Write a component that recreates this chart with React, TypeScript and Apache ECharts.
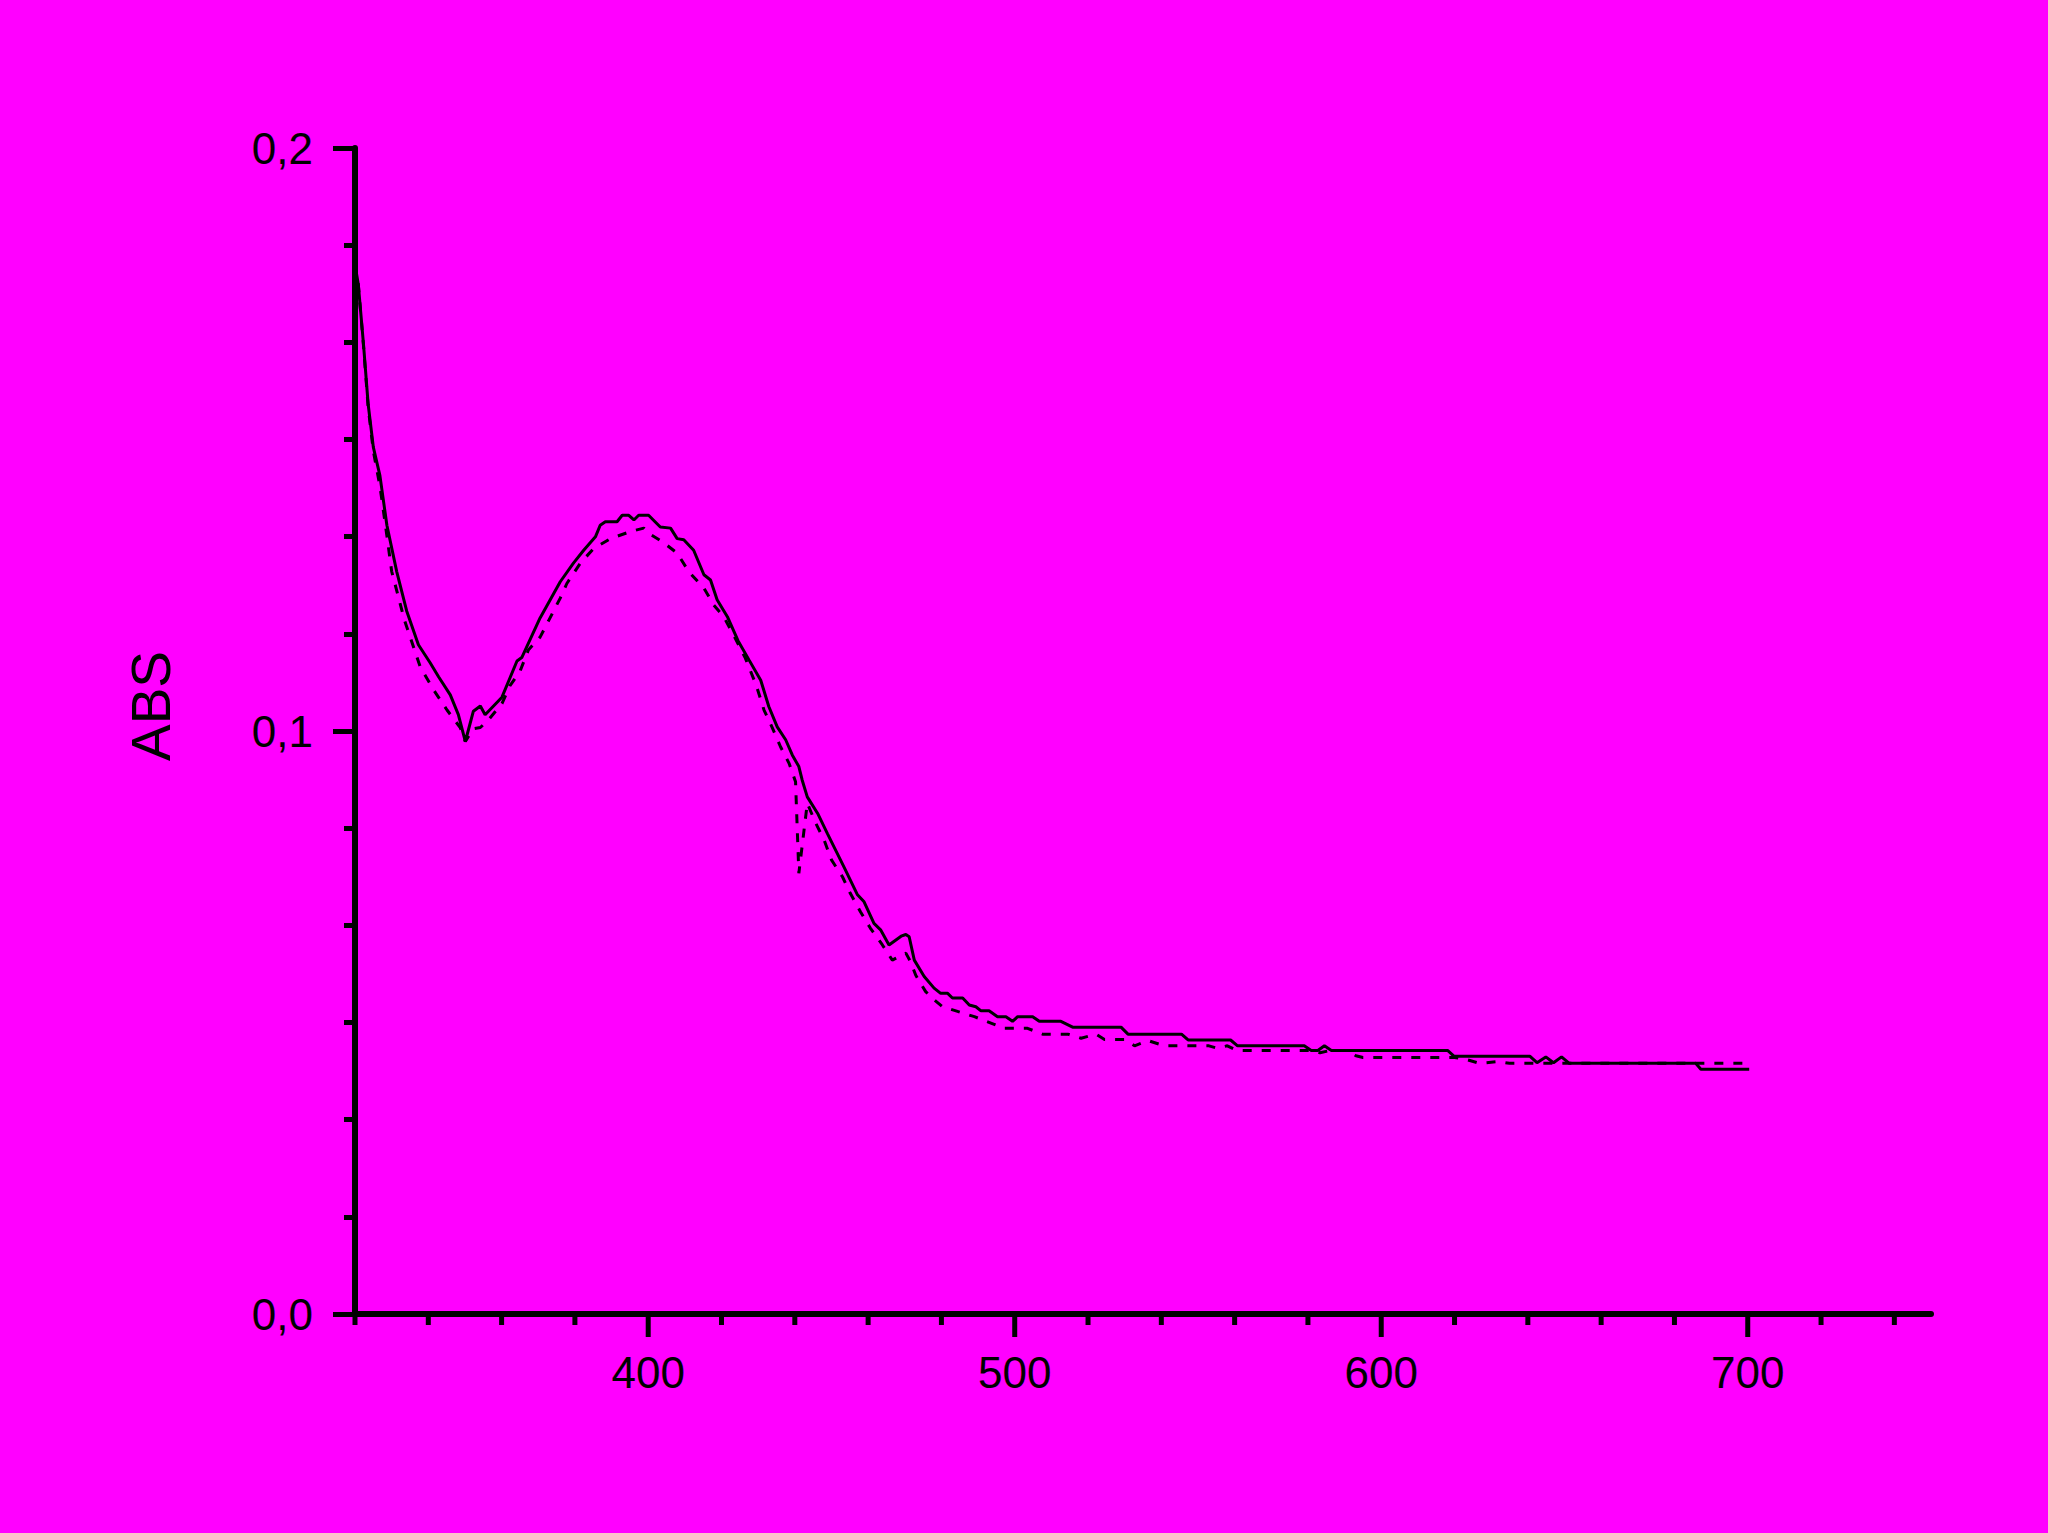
import React, { useEffect, useRef } from "react";
import * as echarts from "echarts";

const solidSeries: [number, number][] = [
  [320, 0.18], [320.9, 0.1766], [322.3, 0.1665], [323.6, 0.156], [325, 0.1487], [326.8, 0.1438],
  [328.7, 0.1353], [331.4, 0.1273], [334.1, 0.1206], [337.3, 0.1148], [340.5, 0.1117], [342.8, 0.1093],
  [346, 0.1062], [348.2, 0.1028], [350.1, 0.0982], [352.3, 0.1034], [354.2, 0.1043], [355.5, 0.1028],
  [360.1, 0.1058], [364.2, 0.112], [365.5, 0.1126], [370.5, 0.1194], [376, 0.1256], [379.6, 0.1288],
  [382.4, 0.131], [385.6, 0.1333], [386.9, 0.1353], [388.3, 0.1359], [391.5, 0.1359], [392.9, 0.137],
  [394.7, 0.137], [396.1, 0.1362], [397.4, 0.137], [400.1, 0.137], [403.3, 0.135], [406.1, 0.1348],
  [407.9, 0.133], [409.7, 0.1328], [412.4, 0.131], [415.2, 0.1268], [417, 0.1259], [418.8, 0.1225],
  [421.6, 0.1196], [424.5, 0.1155], [427.5, 0.1122], [430.7, 0.1087], [432.9, 0.1042], [435.2, 0.1007],
  [437.5, 0.0985], [439.3, 0.0959], [441.1, 0.0939], [442, 0.0916], [443.4, 0.0887], [446.2, 0.0859],
  [448.9, 0.0824], [453.4, 0.0767], [457.1, 0.0719], [458.9, 0.0707], [461.6, 0.067], [463.4, 0.0659],
  [465.7, 0.0633], [469, 0.0648], [470.3, 0.0651], [471.2, 0.0647], [472.6, 0.0607], [475.3, 0.0579],
  [478, 0.0559], [479.8, 0.055], [481.7, 0.055], [483, 0.0542], [485.8, 0.0542], [487.6, 0.053],
  [489.4, 0.0527], [490.8, 0.052], [493, 0.052], [495.3, 0.051], [497.6, 0.051], [499.4, 0.0502],
  [500.8, 0.051], [504.9, 0.051], [506.7, 0.0502], [512.6, 0.0502], [515.8, 0.0492], [529, 0.0492],
  [530.9, 0.048], [545.5, 0.048], [547.3, 0.047], [558.9, 0.047], [560.8, 0.046], [579, 0.046],
  [580.9, 0.0452], [582.7, 0.0452], [584.5, 0.046], [586.4, 0.0452], [618.1, 0.0452], [619.9, 0.0442],
  [640.6, 0.0442], [642.5, 0.0431], [644.9, 0.0441], [647, 0.0431], [649.2, 0.0441], [651.3, 0.043],
  [685.8, 0.043], [687.2, 0.042], [700.4, 0.042],
];

const dashedSeries: [number, number][] = [
  [320, 0.18], [320.9, 0.1766], [322.3, 0.1662], [323.6, 0.1555], [325, 0.148], [326.8, 0.142],
  [328.7, 0.1335], [330, 0.1274], [333.5, 0.119], [337.8, 0.111], [341.5, 0.107], [345.1, 0.1036],
  [348.7, 0.1006], [350.1, 0.0982], [352.3, 0.1004], [354.2, 0.1006], [356.4, 0.1019], [360.1, 0.1047],
  [362.3, 0.1078], [365, 0.1102], [367.3, 0.1139], [370.5, 0.1161], [372.8, 0.1189], [376, 0.1228],
  [377.8, 0.1253], [381.5, 0.1288], [385.1, 0.1313], [389.7, 0.133], [395.1, 0.1342], [398.8, 0.1348],
  [400.1, 0.1339], [403.8, 0.1325], [407.9, 0.1305], [411.1, 0.1273], [415.2, 0.1245], [417.9, 0.1216],
  [420.6, 0.1196], [423.5, 0.1162], [426.5, 0.1125], [429.5, 0.1078], [431.6, 0.1036], [433.9, 0.1005],
  [436.1, 0.0973], [438.4, 0.0945], [440.2, 0.0913], [441.1, 0.0756], [443.4, 0.0876], [445.7, 0.0842],
  [448, 0.0813], [450, 0.0779], [453, 0.075], [455.1, 0.0722], [457.9, 0.069], [460.6, 0.0662],
  [463.9, 0.0633], [466.6, 0.0607], [467.5, 0.061], [470.3, 0.0619], [471.6, 0.0604], [473, 0.0581],
  [475.7, 0.0553], [478, 0.0539], [480.3, 0.0527], [484.4, 0.0519], [489, 0.051], [493.5, 0.0499],
  [497.1, 0.049], [503.5, 0.049], [507.6, 0.048], [514.5, 0.048], [518.1, 0.0473], [522.2, 0.048],
  [524.5, 0.0471], [530, 0.0471], [532.7, 0.046], [536.4, 0.0469], [540.8, 0.046], [553, 0.046],
  [555.2, 0.0456], [558, 0.046], [560.6, 0.0452], [581, 0.0452], [583.3, 0.0448], [586, 0.0452],
  [591, 0.0452], [593.1, 0.0443], [595, 0.044], [620, 0.044], [622.9, 0.0437], [626.8, 0.043],
  [632, 0.0433], [635, 0.043], [700, 0.043],
];

const xTicks: number[] = [
  320, 340, 360, 380, 400, 420, 440, 460, 480, 500, 520, 540, 560, 580, 600, 620, 640, 660, 680, 700, 720, 740,
];
const xLabelValues: number[] = [400, 500, 600, 700];
const yLabelValues: number[] = [0, 0.1, 0.2];

const FONT = "'Liberation Sans', Arial, sans-serif";

export default function App() {
  const ref = useRef<HTMLDivElement>(null);
  useEffect(() => {
    document.body.style.margin = "0";
    document.body.style.background = "#ff00ff";
    const chart = echarts.init(ref.current!, null, { renderer: "svg" });
    chart.setOption({
      animation: false,
      backgroundColor: "#ff00ff",
      grid: { left: 355, top: 148, width: 1576, height: 1166, containLabel: false },
      xAxis: {
        type: "value",
        min: 320,
        max: 750,
        interval: 20,
        splitLine: { show: false },
        axisLine: { show: true, lineStyle: { color: "#000", width: 6 } },
        axisTick: { show: false },
        axisLabel: {
          show: true,
          margin: 36,
          fontSize: 44,
          fontFamily: FONT,
          color: "#000",
          showMaxLabel: false,
          showMinLabel: false,
          formatter: (v: number) => (xLabelValues.includes(Math.round(v)) ? String(Math.round(v)) : ""),
        },
      },
      yAxis: {
        type: "value",
        min: 0,
        max: 0.2,
        interval: 0.1,
        splitLine: { show: false },
        axisLine: { show: true, lineStyle: { color: "#000", width: 6 } },
        axisTick: { show: true, length: 22, lineStyle: { color: "#000", width: 5 } },
        minorTick: { show: true, splitNumber: 6, length: 11, lineStyle: { color: "#000", width: 5 } },
        minorSplitLine: { show: false },
        axisLabel: {
          margin: 42,
          fontSize: 44,
          fontFamily: FONT,
          color: "#000",
          formatter: (v: number) => {
            const m = yLabelValues.find((y) => Math.abs(y - v) < 1e-6);
            return m === undefined ? "" : m.toFixed(1).replace(".", ",");
          },
        },
      },
      graphic: [
        {
          type: "text",
          x: 151,
          y: 706,
          rotation: Math.PI / 2,
          style: {
            text: "ABS",
            fontSize: 55,
            fontFamily: FONT,
            fill: "#000",
            textAlign: "center",
            textVerticalAlign: "middle",
          },
        },
      ],
      series: [
        {
          type: "line",
          data: solidSeries,
          showSymbol: false,
          symbol: "none",
          lineStyle: { color: "#000", width: 3 },
          z: 3,
        },
        {
          type: "line",
          data: dashedSeries,
          showSymbol: false,
          symbol: "none",
          lineStyle: { color: "#000", width: 3, type: [9, 10] },
          z: 3,
        },
        {
          type: "custom",
          data: xTicks.map((t) => [t, 0]),
          clip: false,
          silent: true,
          z: 5,
          renderItem: (params: any, api: any) => {
            const v = api.value(0);
            const p = api.coord([v, 0]);
            const len = v % 100 === 0 ? 23 : 11;
            return {
              type: "line",
              shape: { x1: p[0], y1: p[1], x2: p[0], y2: p[1] + len },
              style: { stroke: "#000", lineWidth: 5 },
            };
          },
        },
      ],
    });
    return () => chart.dispose();
  }, []);
  return (
    <div
      ref={ref}
      style={{ position: "absolute", left: 0, top: 0, width: 2048, height: 1533 }}
    />
  );
}
